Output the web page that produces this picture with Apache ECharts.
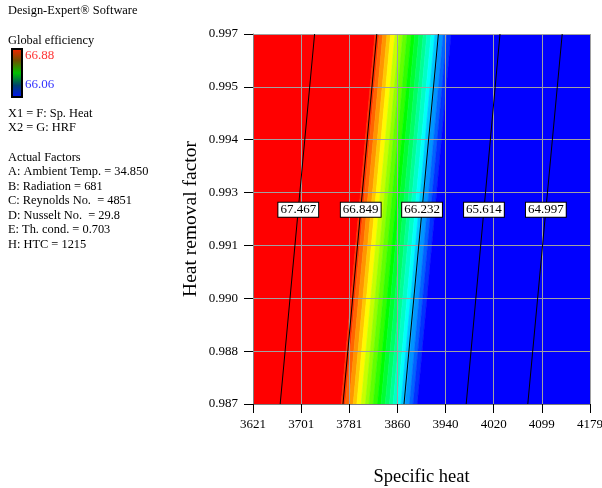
<!DOCTYPE html>
<html>
<head>
<meta charset="utf-8">
<script src="https://cdn.jsdelivr.net/npm/echarts@6/dist/echarts.min.js"></script>
<style>
  html, body { margin: 0; padding: 0; background: #fff; }
  #chart { width: 602px; height: 488px; }
</style>
</head>
<body>
<div id="chart"></div>
<script>
// axis ranges and tick labels
var xMin = 3621, xMax = 4179;
var yMin = 0.987, yMax = 0.997;
var xTicks = ["3621", "3701", "3781", "3860", "3940", "4020", "4099", "4179"];
var yTicks = ["0.987", "0.988", "0.990", "0.991", "0.993", "0.994", "0.995", "0.997"];

// contour lines: level, Sp. heat where it meets HRF = 0.997 (top) and HRF = 0.987 (bottom)
var contourLevels = [67.467, 66.849, 66.232, 65.614, 64.997];
var contourTop = [3723, 3826, 3928, 4030, 4133];
var contourBottom = [3666, 3770, 3871, 3974, 4076];

// colour stripes of the fill: value of each stripe and its edges at top / bottom
var stripeValues = [66.88, 66.84, 66.80, 66.76, 66.72, 66.68, 66.63, 66.59, 66.55, 66.51, 66.47,
                    66.43, 66.39, 66.35, 66.31, 66.27, 66.22, 66.18, 66.14, 66.10, 66.06];
var stripeTop = [3621, 3823, 3830, 3836, 3843, 3849, 3856, 3863, 3869, 3876, 3883,
                 3889, 3896, 3903, 3909, 3916, 3922, 3929, 3936, 3942, 3949, 4179];
var stripeBottom = [3621, 3767, 3774, 3780, 3787, 3793, 3800, 3807, 3813, 3820, 3827,
                    3833, 3840, 3847, 3853, 3860, 3866, 3873, 3880, 3886, 3893, 4179];

var serif = "Liberation Serif";

// map real units onto the 0..7 tick index used by the axes
function ax(v) { return (v - xMin) / (xMax - xMin) * 7; }
function ay(v) { return (v - yMin) / (yMax - yMin) * 7; }

var stripeData = stripeValues.map(function (v, i) {
    return [v, ax(stripeTop[i]), ax(stripeTop[i + 1]), ax(stripeBottom[i]), ax(stripeBottom[i + 1])];
});

var labelHRF = 0.99225;
var contourSeries = contourLevels.map(function (lv, i) {
    return {
        type: "line",
        z: 5,
        silent: true,
        symbol: "none",
        lineStyle: { color: "#000", width: 1 },
        data: [[ax(contourBottom[i]), ay(yMin)], [ax(contourTop[i]), ay(yMax)]]
    };
});
var labelData = contourLevels.map(function (lv, i) {
    var t = (labelHRF - yMin) / (yMax - yMin);
    var sp = contourBottom[i] + t * (contourTop[i] - contourBottom[i]);
    return { value: [ax(sp), ay(labelHRF)], name: lv.toFixed(3) };
});

var leftTexts = [
    ["Design-Expert® Software", 12],
    ["Global efficiency", 42],
    ["X1 = F: Sp. Heat", 115],
    ["X2 = G: HRF", 129],
    ["Actual Factors", 159],
    ["A: Ambient Temp. = 34.850", 173],
    ["B: Radiation = 681", 188],
    ["C: Reynolds No.  = 4851", 202],
    ["D: Nusselt No.  = 29.8", 217],
    ["E: Th. cond. = 0.703", 231],
    ["H: HTC = 1215", 246]
];
var graphics = leftTexts.map(function (t) {
    return {
        type: "text", left: 8, top: t[1] - 7,
        style: { text: t[0], font: "12.4px " + serif, fill: "#000" }
    };
});
graphics.push({
    type: "rect", left: 11, top: 48,
    shape: { width: 10, height: 48 },
    style: {
        stroke: "#000", lineWidth: 2,
        fill: new echarts.graphic.LinearGradient(0, 0, 0, 1, [
            { offset: 0, color: "#ff2000" },
            { offset: 0.25, color: "#705000" },
            { offset: 0.5, color: "#00c000" },
            { offset: 0.75, color: "#004070" },
            { offset: 1, color: "#0010ff" }
        ])
    }
});
graphics.push({ type: "text", left: 25, top: 49, style: { text: "66.88", font: "13px " + serif, fill: "#ff3333" } });
graphics.push({ type: "text", left: 25, top: 78, style: { text: "66.06", font: "13px " + serif, fill: "#3333ff" } });

var chart = echarts.init(document.getElementById("chart"));
chart.setOption({
    animation: false,
    textStyle: { fontFamily: serif },
    grid: { left: 253, top: 34, width: 337, height: 370, containLabel: false, outerBoundsMode: "none" },
    graphic: graphics,
    visualMap: {
        show: false,
        type: "continuous",
        seriesIndex: 0,
        dimension: 0,
        min: 66.06,
        max: 66.88,
        inRange: { color: ["#0000ff", "#00ffff", "#00ff00", "#ffff00", "#ff0000"] }
    },
    xAxis: {
        type: "value", min: 0, max: 7, interval: 1, z: 3,
        name: "Specific heat", nameLocation: "middle", nameGap: 64,
        nameTextStyle: { fontFamily: serif, fontSize: 18.5, color: "#000" },
        axisLine: { show: true, lineStyle: { color: "#808080" } },
        axisTick: { show: true, length: 9, lineStyle: { color: "#000" } },
        axisLabel: { margin: 14, color: "#000", fontSize: 13, fontFamily: serif,
            formatter: function (v) { return xTicks[Math.round(v)]; } },
        splitLine: { show: true, lineStyle: { color: "#a0a0a0", width: 1 } }
    },
    yAxis: {
        type: "value", min: 0, max: 7, interval: 1, z: 3,
        name: "Heat removal factor", nameLocation: "middle", nameGap: 52,
        nameMoveOverlap: false,
        nameTextStyle: { fontFamily: serif, fontSize: 19.5, color: "#000" },
        axisLine: { show: true, lineStyle: { color: "#808080" } },
        axisTick: { show: true, length: 9, lineStyle: { color: "#000" } },
        axisLabel: { margin: 15, color: "#000", fontSize: 13, fontFamily: serif,
            formatter: function (v) { return yTicks[Math.round(v)]; } },
        splitLine: { show: true, lineStyle: { color: "#a0a0a0", width: 1 } }
    },
    series: [{
        type: "custom",
        z: 1,
        silent: true,
        clip: true,
        data: stripeData,
        renderItem: function (params, api) {
            var c = api.visual("color");
            var pts = [
                api.coord([api.value(1), 7]),
                api.coord([api.value(2), 7]),
                api.coord([api.value(4), 0]),
                api.coord([api.value(3), 0])
            ];
            return {
                type: "polygon",
                shape: { points: pts },
                style: { fill: c, stroke: c, lineWidth: 0.6 }
            };
        }
    }].concat(contourSeries).concat([{
        type: "scatter",
        z: 6,
        silent: true,
        symbolSize: 0,
        itemStyle: { color: "#fff", opacity: 1 },
        data: labelData,
        label: {
            show: true, position: "inside",
            formatter: "{b}",
            fontFamily: serif, fontSize: 13, color: "#000",
            textBorderWidth: 0, textBorderColor: "transparent",
            backgroundColor: "#fff", borderColor: "#000", borderWidth: 1,
            padding: [1, 2, 0, 2]
        }
    }])
});
</script>
</body>
</html>
